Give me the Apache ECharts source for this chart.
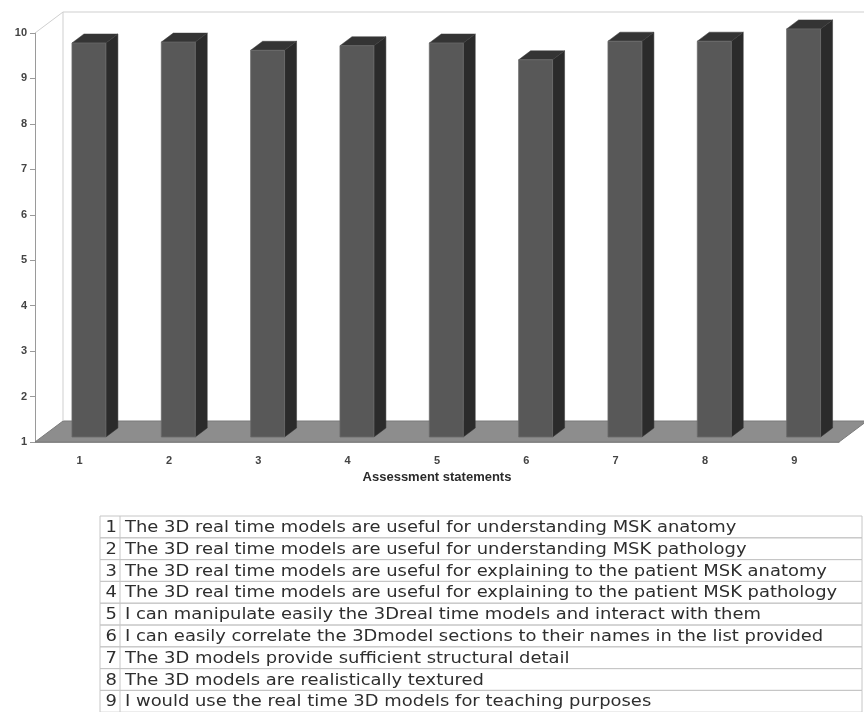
<!DOCTYPE html>
<html>
<head>
<meta charset="utf-8">
<script src="https://cdn.jsdelivr.net/npm/echarts@6/dist/echarts.min.js"></script>
<style>
  html, body { margin: 0; padding: 0; background: #fff; }
  #chart { width: 864px; height: 712px; }
</style>
</head>
<body>
<div id="chart"></div>
<script>
// chart data
var categories = ['1', '2', '3', '4', '5', '6', '7', '8', '9'];
var scores = [9.67, 9.69, 9.51, 9.61, 9.67, 9.30, 9.71, 9.71, 9.98];
var yTicks = { min: 1, max: 10, interval: 1 };
var statements = [
  'The 3D real time models are useful for understanding MSK anatomy',
  'The 3D real time models are useful for understanding MSK pathology',
  'The 3D real time models are useful for explaining to the patient MSK anatomy',
  'The 3D real time models are useful for explaining to the patient MSK pathology',
  'I can manipulate easily the 3Dreal time models and interact with them',
  'I can easily correlate the 3Dmodel sections to their names in the list provided',
  'The 3D models provide sufficient structural detail',
  'The 3D models are realistically textured',
  'I would use the real time 3D models for teaching purposes'
];

var myChart = echarts.init(document.getElementById('chart'));

// depth of the fake 3d box
var DX = 28, DY = -21;

function renderFloor(params, api) {
  var cs = params.coordSys;
  var l = cs.x, r = cs.x + cs.width, t = cs.y, b = cs.y + cs.height;
  return {
    type: 'group',
    children: [
      { type: 'polygon', shape: { points: [[l, b], [r, b], [r + DX, b + DY], [l + DX, b + DY]] },
        style: { fill: '#8d8d8d', stroke: '#7a7a7a', lineWidth: 1 } },
      { type: 'line', shape: { x1: l + DX, y1: t + DY, x2: l + DX, y2: b + DY },
        style: { stroke: '#cfcfcf', lineWidth: 1 } },
      { type: 'line', shape: { x1: l + DX, y1: t + DY, x2: r + DX + 40, y2: t + DY },
        style: { stroke: '#cfcfcf', lineWidth: 1 } },
      { type: 'line', shape: { x1: l, y1: t, x2: l + DX, y2: t + DY },
        style: { stroke: '#cfcfcf', lineWidth: 1 } }
    ]
  };
}

function renderBar(params, api) {
  var i = api.value(0), v = api.value(1);
  var base = api.coord([i, yTicks.min]);
  var top = api.coord([i, v]);
  var bw = api.size([1, 0])[0];
  var x0 = base[0] - 0.086 * bw;
  var fw = 0.38 * bw;
  var dx = 0.134 * bw, dy = -9;
  var yb = base[1] - 5, yt = top[1] - 5;
  return {
    type: 'group',
    children: [
      { type: 'polygon', shape: { points: [[x0 + fw, yt], [x0 + fw + dx, yt + dy], [x0 + fw + dx, yb + dy], [x0 + fw, yb]] },
        style: { fill: '#2b2b2b', stroke: '#333', lineWidth: 0.5 } },
      { type: 'polygon', shape: { points: [[x0, yt], [x0 + dx, yt + dy], [x0 + fw + dx, yt + dy], [x0 + fw, yt]] },
        style: { fill: '#343434', stroke: '#3a3a3a', lineWidth: 0.5 } },
      { type: 'rect', shape: { x: x0, y: yt, width: fw, height: yb - yt },
        style: { fill: '#585858', stroke: '#6a6a6a', lineWidth: 0.8 } }
    ]
  };
}

// table under the chart
var tableTop = 516, rowH = 21.8, tableL = 100, tableR = 862, numCol = 120;
var tableGraphics = [];
statements.forEach(function (s, i) {
  var y = tableTop + i * rowH;
  tableGraphics.push({
    type: 'rect', shape: { x: tableL, y: y, width: tableR - tableL, height: rowH },
    style: { fill: 'none', stroke: '#c6c6c6', lineWidth: 1 }
  });
  tableGraphics.push({
    type: 'line', shape: { x1: numCol, y1: y, x2: numCol, y2: y + rowH },
    style: { stroke: '#c6c6c6', lineWidth: 1 }
  });
  tableGraphics.push({
    type: 'text', x: numCol - 3, y: y + rowH / 2 + 1, scaleX: 1.12,
    style: { text: String(i + 1), font: '16px "DejaVu Sans"', fill: '#2e2e2e', align: 'right', verticalAlign: 'middle' }
  });
  tableGraphics.push({
    type: 'text', x: numCol + 5, y: y + rowH / 2 + 1, scaleX: 1.12,
    style: { text: s, font: '16px "DejaVu Sans"', fill: '#2e2e2e', align: 'left', verticalAlign: 'middle' }
  });
});

var option = {
  backgroundColor: '#fff',
  animation: false,
  grid: { left: 35, right: 25, top: 33, bottom: 270 },
  xAxis: {
    type: 'category',
    data: categories,
    name: 'Assessment statements',
    nameLocation: 'middle',
    nameGap: 29,
    nameTextStyle: { fontFamily: 'Liberation Sans', fontSize: 13, fontWeight: 'bold', color: '#2a2a2a' },
    axisLine: { lineStyle: { color: '#9a9a9a' } },
    axisTick: { length: 6, lineStyle: { color: '#9a9a9a' } },
    axisLabel: { margin: 13, fontFamily: 'Liberation Sans', fontSize: 11, fontWeight: 'bold', color: '#444' }
  },
  yAxis: {
    type: 'value',
    min: yTicks.min,
    max: yTicks.max,
    interval: yTicks.interval,
    axisLine: { show: true, lineStyle: { color: '#9a9a9a' } },
    axisTick: { show: true, length: 5, lineStyle: { color: '#9a9a9a' } },
    axisLabel: { margin: 8, fontFamily: 'Liberation Sans', fontSize: 11, fontWeight: 'bold', color: '#444' },
    splitLine: { show: false }
  },
  graphic: tableGraphics,
  series: [
    {
      type: 'custom',
      renderItem: renderFloor,
      data: [[0, yTicks.min]],
      clip: false,
      silent: true,
      z: 1
    },
    {
      type: 'custom',
      renderItem: renderBar,
      data: scores.map(function (v, i) { return [i, v]; }),
      encode: { x: 0, y: 1 },
      clip: false,
      z: 2
    }
  ]
};

myChart.setOption(option);
</script>
</body>
</html>
